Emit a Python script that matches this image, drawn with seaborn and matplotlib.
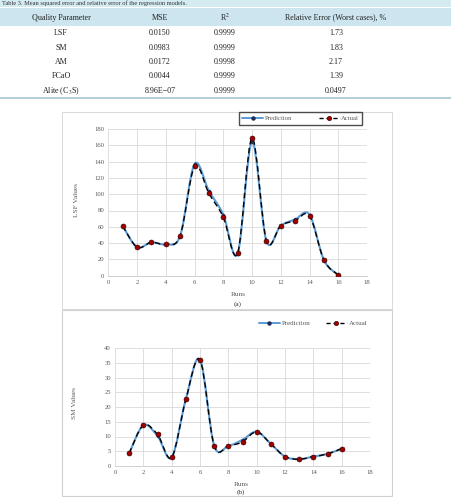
import numpy as np
import pandas as pd
import matplotlib
matplotlib.use("Agg")
import matplotlib.pyplot as plt
from matplotlib.path import Path
from matplotlib.patches import PathPatch, Rectangle
from matplotlib.lines import Line2D
import seaborn as sns

# ---------------- data ----------------
table_params = ["LSF", "SM", "AM", "FCaO", "Alite (C$_3$S)"]
table_mse = ["0.0150", "0.0983", "0.0172", "0.0044", "8.96E\u221207"]
table_r2 = ["0.9999", "0.9999", "0.9998", "0.9999", "0.9999"]
table_relerr = ["1.73", "1.83", "2.17", "1.39", "0.0497"]
table_headers = ["Quality Parameter", "MSE", "R$^2$", "Relative Error (Worst cases), %"]

runs = list(range(1, 17))
lsf_pred = [61, 35, 41, 38.5, 49, 137, 104, 75, 27, 164.5, 42.6, 61.4, 69, 75, 19.3, 0.8]
lsf_actual = [61, 35, 41, 38.5, 49, 134, 101, 72, 28, 169, 43, 61.4, 67.5, 73.6, 19.3, 0.8]
sm_pred = [4.3, 13.8, 10.2, 2.9, 22.6, 36, 6.9, 6.8, 8.9, 11.6, 7.5, 3.2, 2.3, 3.2, 4.1, 5.9]
sm_actual = [4.3, 13.8, 10.7, 2.9, 22.6, 36, 6.9, 6.8, 8.2, 11.6, 7.5, 3.2, 2.3, 3.2, 4.1, 5.9]

W, H = 451, 497
sns.set_theme(style="white")
plt.rcParams["font.family"] = ["Liberation Serif", "DejaVu Serif"]
plt.rcParams["mathtext.fontset"] = "stix"

fig = plt.figure(figsize=(W / 100, H / 100), dpi=100)
fig.patch.set_facecolor("white")


def fx(px):
    return px / W


def fy(py):
    return 1 - py / H


def frect(x0, y0, x1, y1, **kw):
    fig.patches.append(Rectangle((fx(x0), fy(y1)), fx(x1) - fx(x0), fy(y0) - fy(y1),
                                 transform=fig.transFigure, zorder=-5, **kw))


# ---------------- table ----------------
frect(0, 0, W, 7, facecolor="#d4ebf2", edgecolor="none")
fig.text(fx(2), fy(3.6), "Table 3. Mean squared error and relative error of the regression models.",
         fontsize=4.6, color="#333333", ha="left", va="center")
frect(0, 8, W, 26, facecolor="#cde5ee", edgecolor="none")
col_x = [61, 160, 225, 336]
for x, h in zip(col_x, table_headers):
    fig.text(fx(x), fy(17.5), h, fontsize=5.8, color="#222222", ha="center", va="center")
row_y = [33, 47.5, 62, 76.5, 91]
for i, y in enumerate(row_y):
    vals = [table_params[i], table_mse[i], table_r2[i], table_relerr[i]]
    for x, v in zip(col_x, vals):
        fig.text(fx(x), fy(y), v, fontsize=5.8, color="#222222", ha="center", va="center")
fig.lines.append(Line2D([0, 1], [fy(97.5), fy(97.5)], transform=fig.transFigure,
                        color="#a7c3cc", lw=1.2))

# ---------------- chart frames ----------------
frect(62, 112, 392, 309, facecolor="white", edgecolor="#d9d9d9", lw=0.7)
frect(62, 310, 392, 496, facecolor="white", edgecolor="#d0d0d0", lw=0.8)

PRED_C = "#5b9bd5"
PRED_M = "#1f2d5a"
ACT_M = "#a00000"


def smooth_path(xs, ys):
    xs = np.asarray(xs, float)
    ys = np.asarray(ys, float)
    n = len(xs)
    verts = [(xs[0], ys[0])]
    codes = [Path.MOVETO]
    for i in range(n - 1):
        x0, y0 = (xs[i - 1], ys[i - 1]) if i > 0 else (xs[i], ys[i])
        x3, y3 = (xs[i + 2], ys[i + 2]) if i + 2 < n else (xs[i + 1], ys[i + 1])
        c1 = (xs[i] + (xs[i + 1] - x0) / 6, ys[i] + (ys[i + 1] - y0) / 6)
        c2 = (xs[i + 1] - (x3 - xs[i]) / 6, ys[i + 1] - (y3 - ys[i]) / 6)
        verts += [c1, c2, (xs[i + 1], ys[i + 1])]
        codes += [Path.CURVE4] * 3
    return Path(verts, codes)


def draw_chart(rect, pred, actual, ymax, ystep, ylabel, ylabel_xy, xlab_xy, tag_xy, tag):
    ax = fig.add_axes([fx(rect[0]), fy(rect[3]), fx(rect[2]) - fx(rect[0]), fy(rect[1]) - fy(rect[3])])
    ax.set_facecolor("none")
    df = pd.DataFrame({"Runs": runs * 2, "Value": list(pred) + list(actual),
                       "Series": ["Prediction"] * len(runs) + ["Actual"] * len(runs)})
    # smooth lines (Excel-style smoothed lines)
    ax.add_patch(PathPatch(smooth_path(runs, pred), fill=False, edgecolor=PRED_C, lw=1.5, zorder=3))
    ax.add_patch(PathPatch(smooth_path(runs, actual), fill=False, edgecolor="black", lw=1.0,
                           linestyle=(0, (4, 2.5)), zorder=4))
    sns.scatterplot(data=df[df.Series == "Prediction"], x="Runs", y="Value", ax=ax,
                    color=PRED_M, s=6, linewidth=0, zorder=5, legend=False)
    sns.scatterplot(data=df[df.Series == "Actual"], x="Runs", y="Value", ax=ax,
                    color=ACT_M, s=13, edgecolor="#300000", linewidth=0.4, zorder=6, legend=False)
    ax.set_xlim(0, 18)
    ax.set_ylim(0, ymax)
    ax.set_xticks(np.arange(0, 19, 2))
    ax.set_yticks(np.arange(0, ymax + 0.1, ystep))
    ax.grid(True, color="#d9d9d9", lw=0.6)
    ax.set_axisbelow(True)
    for s in ax.spines.values():
        s.set_visible(False)
    ax.spines["bottom"].set_visible(True)
    ax.spines["bottom"].set_color("#d0d0d0")
    ax.spines["bottom"].set_linewidth(0.7)
    ax.tick_params(axis="both", length=0, labelsize=4.8, labelcolor="#595959", pad=3)
    ax.set_xlabel("")
    ax.set_ylabel("")
    fig.text(fx(ylabel_xy[0]), fy(ylabel_xy[1]), ylabel, rotation=90, fontsize=5.2,
             color="#595959", ha="center", va="center")
    fig.text(fx(xlab_xy[0]), fy(xlab_xy[1]), "Runs", fontsize=5.2, color="#595959",
             ha="center", va="center")
    fig.text(fx(tag_xy[0]), fy(tag_xy[1]), tag, fontsize=5.2, color="#333333",
             ha="center", va="center")
    return ax


draw_chart((108.3, 129, 367, 275.7), lsf_pred, lsf_actual, 180, 20, "LSF Values",
           (77, 200), (238, 294), (238, 304), "(a)")
draw_chart((115, 348, 370, 466), sm_pred, sm_actual, 40, 5, "SM Values",
           (75, 403), (241, 484), (241, 492), "(b)")

handles = [Line2D([], [], color=PRED_C, lw=1.4, marker="o", markersize=2.2,
                  markerfacecolor=PRED_M, markeredgecolor=PRED_M),
           Line2D([], [], color="black", lw=1.0, linestyle=(0, (3, 2)), marker="o", markersize=3.2,
                  markerfacecolor=ACT_M, markeredgecolor="#300000", markeredgewidth=0.4)]
labels = ["Prediction", "Actual"]
leg_a = fig.legend(handles, labels, ncol=2, loc="center", bbox_to_anchor=(fx(300.5), fy(118.5)),
                   frameon=True, fancybox=False, edgecolor="#222222", fontsize=4.8,
                   handlelength=3.2, columnspacing=4.0, handletextpad=0.2, borderpad=0.5,
                   borderaxespad=0, labelcolor="#595959")
leg_a.get_frame().set_linewidth(1.0)
leg_b = fig.legend(handles, labels, ncol=2, loc="center", bbox_to_anchor=(fx(313), fy(323)),
                   frameon=False, fontsize=5.0, handlelength=3.0, columnspacing=2.2,
                   handletextpad=0.3, labelcolor="#595959")

fig.savefig("out.png", dpi=100)
